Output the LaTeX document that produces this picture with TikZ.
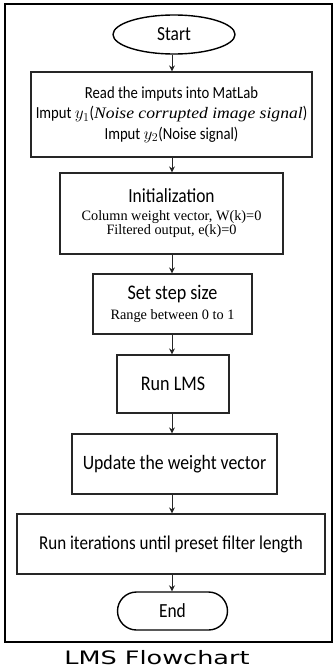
\documentclass[tikz,border=0pt]{standalone}
\usepackage{fontspec}
\setmainfont[FakeStretch=0.87]{Carlito}
\newfontfamily\seriff{Liberation Serif}
\newfontfamily\itserif[FakeStretch=1.1]{Liberation Serif Italic}
\newfontfamily\capfont[FakeStretch=1.38]{DejaVu Sans}
\usetikzlibrary{arrows.meta,shapes.geometric,shapes.misc}
\begin{document}
\begin{tikzpicture}[x=1pt,y=-1pt,
  box/.style={draw=black!85,line width=1.2pt,rectangle,inner sep=0pt,align=center},
  term/.style={draw=black,line width=1.4pt,inner sep=0pt,font=\fontsize{20}{22}\selectfont},
  arr/.style={-{Stealth[length=6pt,width=6pt]},line width=0.9pt,draw=black!85}]
\useasboundingbox (0,0) rectangle (336,669);
\draw[line width=2.2pt] (5,4) rectangle (332,642);
\node[term,ellipse,minimum width=122,minimum height=39] (start) at (174,34.5) {Start};
\node[box,minimum width=281,minimum height=85,font=\fontsize{16.9}{20.5}\selectfont] (b1) at (171.5,114.5)
  {Read the imputs into MatLab\\
   Imput $y_1$({\itserif\fontsize{16}{17}\selectfont Noise corrupted image signal})\\
   Imput $y_2$(Noise signal)};
\node[box,minimum width=223,minimum height=81] (b2) at (171.5,213.5)
  {{\fontsize{20}{22}\selectfont Initialization}\\[6pt]
   {\seriff\fontsize{14.3}{17}\selectfont Column weight vector, W(k)=0}\\
   {\seriff\fontsize{14.3}{17}\selectfont Filtered output, e(k)=0}};
\node[box,minimum width=159,minimum height=60] (b3) at (172.5,304)
  {{\fontsize{20.8}{22}\selectfont Set step size}\\[5pt]
   {\seriff\fontsize{14.3}{17}\selectfont Range between 0 to 1}};
\node[box,minimum width=112,minimum height=58,font=\fontsize{20.8}{22}\selectfont] (b4) at (173,384) {Run LMS};
\node[box,minimum width=205,minimum height=60,font=\fontsize{20.4}{22}\selectfont] (b5) at (174.5,464) {Update the weight vector};
\node[box,minimum width=308,minimum height=60,font=\fontsize{19.6}{22}\selectfont] (b6) at (171,544) {Run iterations until preset filter length};
\node[term,rounded rectangle,minimum width=110,minimum height=38] (end) at (172.5,611) {End};
\draw[arr] (start.south -| 172,0) -- (b1.north -| 172,0);
\draw[arr] (b1.south -| 172,0) -- (b2.north -| 172,0);
\draw[arr] (b2.south -| 172,0) -- (b3.north -| 172,0);
\draw[arr] (b3.south -| 172,0) -- (b4.north -| 172,0);
\draw[arr] (b4.south -| 172,0) -- (b5.north -| 172,0);
\draw[arr] (b5.south -| 172,0) -- (b6.north -| 172,0);
\draw[arr] (b6.south -| 172,0) -- (end.north -| 172,0);
\node[font=\capfont\fontsize{18.5}{20}\selectfont] (cap) at (157,658) {LMS Flowchart};
\end{tikzpicture}
\end{document}
